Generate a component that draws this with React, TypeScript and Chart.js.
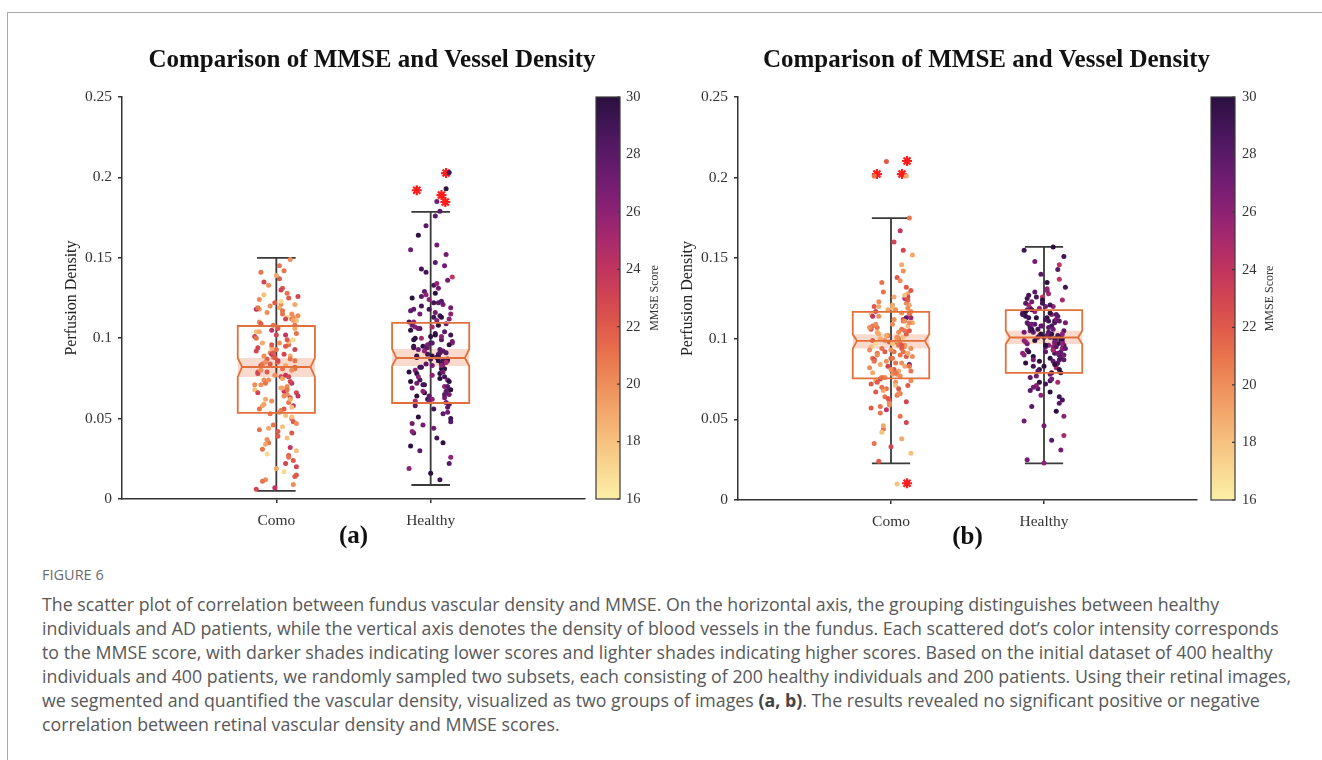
import React, { useEffect, useRef } from 'react';
import { Chart, registerables } from 'chart.js';

Chart.register(...registerables);

// ---------------- data ----------------
const TITLE = 'Comparison of MMSE and Vessel Density';
const CATEGORIES = ['Como', 'Healthy'];
const Y_TICKS = [0, 0.05, 0.1, 0.15, 0.2, 0.25];
const CB_TICKS = [16, 18, 20, 22, 24, 26, 28, 30];
const Y_TITLE = 'Perfusion Density';
const CB_TITLE = 'MMSE Score';

// horizontal jitter of each scattered dot (category units)
const JITTER = [
  0.05, -0.11, 0.12, -0.03, 0.08, -0.13, 0.01, 0.10, -0.07, 0.04,
  -0.09, 0.13, -0.02, 0.07, -0.12, 0.03, 0.11, -0.05, 0.09, -0.14,
  0.02, -0.08, 0.06, 0.12, -0.10, 0.00, 0.08, -0.04, 0.14, -0.11,
  0.10, -0.06, 0.03, -0.13, 0.07, 0.11, -0.01, 0.05, -0.09, 0.13,
  -0.12, 0.04, 0.09, -0.07, 0.01, -0.03, 0.12, -0.10, 0.06, 0.02,
  0.08, -0.14, 0.11, -0.05, 0.03, 0.10, -0.08, 0.13, -0.02, 0.06,
  -0.11, 0.09, -0.04, 0.01, 0.12, -0.06, 0.04, -0.13, 0.07, 0.10,
  0.00, -0.09, 0.05, 0.11, -0.01, 0.08, -0.12, 0.03, -0.07, 0.14,
  0.06, -0.10, 0.02, 0.09, -0.05, 0.13, -0.03, 0.07, 0.11, -0.08,
  -0.13, 0.04, 0.10, -0.06, 0.01, -0.11, 0.08, 0.05, -0.02, 0.12,
  0.03, -0.07, 0.13, -0.10, 0.06, 0.09, -0.04, 0.00, -0.12, 0.07,
  0.11, -0.01, 0.04, -0.09, 0.14, 0.02, -0.06, 0.10, 0.08, -0.13,
  -0.03, 0.12, -0.08, 0.05, 0.01, -0.11, 0.09, -0.05, 0.13, 0.03,
  0.07, -0.14, 0.10, -0.02, 0.06, 0.04, -0.09, 0.12, -0.07, 0.00,
  -0.10, 0.08, 0.02, 0.11, -0.04, 0.13, -0.12, 0.05, 0.09, -0.06,
  0.01, -0.08, 0.07, -0.01, 0.12, -0.03, 0.10, -0.11, 0.04, 0.06,
];

// ---- panel (a) ----
const A_COMO_Y = [
  0.142, 0.118, 0.093, 0.061, 0.027, 0.104, 0.085, 0.072, 0.012, 0.131,
  0.097, 0.066, 0.046, 0.113, 0.079, 0.121, 0.058, 0.035, 0.089, 0.101,
  0.137, 0.074, 0.052, 0.108, 0.083, 0.019, 0.125, 0.091, 0.064, 0.043,
  0.115, 0.087, 0.069, 0.006, 0.128, 0.099, 0.077, 0.056, 0.031, 0.111,
  0.094, 0.081, 0.149, 0.062, 0.039, 0.105, 0.086, 0.071, 0.022, 0.119,
  0.096, 0.068, 0.048, 0.133, 0.076, 0.112, 0.059, 0.015, 0.088, 0.102,
  0.124, 0.073, 0.053, 0.107, 0.082, 0.028, 0.117, 0.092, 0.065, 0.041,
  0.139, 0.084, 0.067, 0.009, 0.122, 0.098, 0.078, 0.055, 0.034, 0.114,
  0.095, 0.080, 0.145, 0.063, 0.044, 0.103, 0.090, 0.070, 0.024, 0.127,
  0.100, 0.075, 0.050, 0.116, 0.086, 0.110, 0.060, 0.017, 0.091, 0.106,
  0.130, 0.072, 0.047, 0.109, 0.083, 0.032, 0.120, 0.093, 0.066, 0.038,
  0.113, 0.088, 0.069, 0.011, 0.126, 0.097, 0.079, 0.057, 0.026, 0.118,
  0.094, 0.081, 0.135, 0.064, 0.042, 0.104, 0.087, 0.074, 0.020, 0.123,
  0.099, 0.071, 0.051, 0.108, 0.077, 0.115, 0.058, 0.014, 0.085, 0.102,
  0.141, 0.076, 0.054, 0.111, 0.084, 0.030, 0.119, 0.090, 0.062, 0.037,
  0.106, 0.089, 0.068, 0.007, 0.121, 0.096, 0.080, 0.056, 0.045, 0.112,
];
const A_COMO_MMSE = [
  21, 19, 23, 20, 22, 18, 21, 24, 20, 22,
  19, 23, 21, 17, 22, 20, 24, 21, 19, 23,
  22, 20, 18, 21, 23, 19, 22, 20, 24, 21,
  20, 22, 19, 23, 21, 17, 20, 22, 21, 18,
  23, 21, 20, 19, 22, 24, 21, 20, 23, 19,
  21, 18, 22, 20, 23, 21, 19, 22, 20, 24,
  20, 23, 21, 19, 22, 17, 21, 23, 20, 22,
  19, 21, 24, 20, 22, 18, 23, 21, 19, 20,
  22, 20, 21, 23, 19, 21, 24, 20, 22, 18,
  21, 19, 22, 20, 23, 20, 21, 17, 22, 19,
  23, 21, 20, 22, 19, 24, 20, 21, 23, 18,
  20, 22, 19, 21, 23, 20, 22, 18, 21, 24,
  19, 21, 23, 20, 22, 19, 21, 20, 23, 17,
  22, 20, 18, 21, 24, 21, 19, 22, 20, 23,
  21, 23, 20, 19, 22, 18, 21, 23, 19, 20,
  22, 20, 21, 24, 19, 22, 20, 21, 18, 23,
];
const A_HEALTHY_Y = [
  0.122, 0.095, 0.068, 0.141, 0.084, 0.033, 0.107, 0.091, 0.074, 0.158,
  0.089, 0.115, 0.062, 0.099, 0.047, 0.128, 0.086, 0.071, 0.104, 0.019,
  0.133, 0.093, 0.078, 0.112, 0.058, 0.087, 0.121, 0.066, 0.097, 0.041,
  0.109, 0.082, 0.147, 0.073, 0.101, 0.054, 0.118, 0.090, 0.064, 0.026,
  0.125, 0.088, 0.070, 0.106, 0.083, 0.170, 0.096, 0.061, 0.114, 0.044,
  0.092, 0.079, 0.136, 0.067, 0.103, 0.085, 0.051, 0.119, 0.094, 0.012,
  0.110, 0.076, 0.129, 0.089, 0.065, 0.100, 0.038, 0.117, 0.081, 0.152,
  0.097, 0.072, 0.108, 0.057, 0.124, 0.086, 0.069, 0.102, 0.030, 0.138,
  0.091, 0.080, 0.113, 0.063, 0.095, 0.048, 0.127, 0.084, 0.074, 0.164,
  0.105, 0.088, 0.060, 0.120, 0.077, 0.099, 0.053, 0.131, 0.090, 0.022,
  0.116, 0.082, 0.068, 0.107, 0.093, 0.145, 0.071, 0.101, 0.042, 0.123,
  0.087, 0.064, 0.111, 0.078, 0.098, 0.056, 0.126, 0.085, 0.035, 0.155,
  0.094, 0.073, 0.106, 0.089, 0.062, 0.118, 0.081, 0.046, 0.102, 0.176,
  0.083, 0.110, 0.067, 0.096, 0.075, 0.134, 0.088, 0.059, 0.115, 0.016,
  0.100, 0.079, 0.122, 0.070, 0.092, 0.050, 0.108, 0.086, 0.065, 0.143,
  0.097, 0.076, 0.113, 0.061, 0.203, 0.084, 0.193, 0.094, 0.185, 0.179,
];
const A_HEALTHY_MMSE = [
  28, 30, 26, 29, 27, 30, 25, 28, 29, 27,
  30, 26, 29, 28, 27, 30, 24, 29, 28, 26,
  29, 27, 30, 26, 28, 29, 27, 30, 25, 28,
  27, 29, 28, 30, 26, 27, 29, 28, 30, 26,
  30, 28, 26, 29, 27, 28, 30, 25, 29, 27,
  28, 30, 27, 26, 29, 28, 30, 27, 26, 29,
  26, 29, 28, 30, 27, 25, 29, 28, 30, 27,
  29, 27, 30, 28, 26, 29, 27, 30, 28, 24,
  28, 26, 29, 27, 30, 28, 26, 29, 27, 30,
  30, 28, 27, 29, 26, 30, 28, 27, 29, 28,
  27, 29, 30, 26, 28, 27, 29, 30, 26, 28,
  29, 28, 26, 30, 27, 29, 28, 25, 30, 27,
  28, 30, 27, 29, 26, 28, 30, 27, 29, 28,
  26, 29, 28, 27, 30, 26, 29, 28, 27, 30,
  30, 27, 29, 28, 26, 29, 27, 30, 28, 29,
  28, 26, 30, 27, 29, 28, 30, 29, 27, 28,
];
// box statistics: [whiskerLow, q1, notchLow, median, notchHigh, q3, whiskerHigh]
const A_COMO_BOX = [0.005, 0.0535, 0.0759, 0.0821, 0.0877, 0.1076, 0.15];
const A_HEALTHY_BOX = [0.0087, 0.0597, 0.0827, 0.0877, 0.0933, 0.1095, 0.1785];
const A_OUTLIER_Y = [0.2027, 0.192, 0.189, 0.1847];
const A_OUTLIER_GROUP = [2, 2, 2, 2];
const A_OUTLIER_JITTER = [0.1, -0.09, 0.07, 0.095];

// ---- panel (b) ----
const B_COMO_Y = [
  0.104, 0.087, 0.121, 0.069, 0.112, 0.095, 0.078, 0.132, 0.058, 0.101,
  0.091, 0.117, 0.083, 0.146, 0.099, 0.073, 0.108, 0.044, 0.125, 0.093,
  0.081, 0.103, 0.066, 0.115, 0.097, 0.088, 0.155, 0.076, 0.110, 0.035,
  0.122, 0.094, 0.071, 0.106, 0.085, 0.128, 0.062, 0.100, 0.090, 0.113,
  0.079, 0.138, 0.096, 0.054, 0.119, 0.086, 0.105, 0.074, 0.167, 0.092,
  0.111, 0.082, 0.126, 0.068, 0.098, 0.089, 0.114, 0.029, 0.102, 0.077,
  0.120, 0.095, 0.064, 0.109, 0.084, 0.135, 0.099, 0.072, 0.116, 0.048,
  0.093, 0.107, 0.080, 0.124, 0.060, 0.101, 0.088, 0.118, 0.075, 0.152,
  0.097, 0.067, 0.112, 0.083, 0.129, 0.094, 0.056, 0.106, 0.091, 0.024,
  0.115, 0.078, 0.103, 0.070, 0.121, 0.087, 0.142, 0.096, 0.063, 0.110,
  0.085, 0.100, 0.074, 0.117, 0.052, 0.127, 0.092, 0.081, 0.108, 0.038,
  0.119, 0.098, 0.065, 0.104, 0.089, 0.160, 0.076, 0.113, 0.095, 0.057,
  0.102, 0.083, 0.123, 0.069, 0.097, 0.086, 0.111, 0.046, 0.130, 0.079,
  0.094, 0.107, 0.061, 0.118, 0.090, 0.101, 0.073, 0.175, 0.084, 0.033,
  0.109, 0.092, 0.126, 0.071, 0.099, 0.080, 0.114, 0.066, 0.105, 0.042,
  0.088, 0.120, 0.096, 0.059, 0.116, 0.210, 0.201, 0.201, 0.010, 0.136,
];
const B_COMO_MMSE = [
  20, 22, 19, 21, 23, 18, 20, 22, 21, 19,
  21, 20, 23, 19, 22, 20, 18, 21, 24, 20,
  22, 19, 21, 20, 17, 22, 23, 20, 19, 21,
  20, 21, 18, 22, 20, 19, 23, 21, 20, 25,
  19, 22, 20, 21, 18, 20, 22, 19, 24, 21,
  21, 20, 23, 19, 21, 22, 20, 18, 21, 20,
  22, 19, 21, 20, 27, 21, 19, 22, 20, 23,
  20, 21, 19, 22, 20, 18, 21, 20, 23, 19,
  21, 22, 20, 19, 21, 20, 24, 21, 19, 22,
  18, 20, 22, 21, 19, 23, 20, 21, 22, 20,
  21, 19, 20, 23, 21, 18, 22, 20, 21, 19,
  20, 22, 21, 19, 20, 23, 21, 28, 20, 22,
  19, 21, 20, 22, 18, 21, 20, 19, 22, 21,
  22, 20, 23, 19, 21, 20, 22, 21, 19, 23,
  20, 21, 19, 22, 20, 21, 24, 20, 21, 18,
  21, 19, 22, 20, 21, 22, 19, 21, 18, 20,
];
const B_HEALTHY_Y = [
  0.108, 0.093, 0.124, 0.081, 0.115, 0.099, 0.072, 0.137, 0.104, 0.088,
  0.119, 0.096, 0.065, 0.110, 0.085, 0.128, 0.101, 0.077, 0.143, 0.091,
  0.113, 0.058, 0.106, 0.094, 0.121, 0.083, 0.100, 0.069, 0.132, 0.097,
  0.087, 0.117, 0.103, 0.049, 0.111, 0.092, 0.126, 0.079, 0.105, 0.151,
  0.098, 0.074, 0.114, 0.089, 0.120, 0.102, 0.062, 0.109, 0.095, 0.135,
  0.084, 0.116, 0.099, 0.071, 0.107, 0.090, 0.123, 0.040, 0.103, 0.086,
  0.118, 0.097, 0.080, 0.112, 0.094, 0.129, 0.067, 0.104, 0.091, 0.146,
  0.101, 0.076, 0.115, 0.088, 0.108, 0.055, 0.122, 0.096, 0.083, 0.110,
  0.093, 0.127, 0.102, 0.073, 0.113, 0.087, 0.119, 0.100, 0.031, 0.106,
  0.090, 0.116, 0.064, 0.109, 0.095, 0.125, 0.082, 0.103, 0.140, 0.098,
  0.111, 0.070, 0.105, 0.092, 0.120, 0.085, 0.101, 0.046, 0.114, 0.097,
  0.089, 0.124, 0.078, 0.107, 0.094, 0.131, 0.099, 0.060, 0.112, 0.155,
  0.086, 0.103, 0.118, 0.075, 0.096, 0.110, 0.091, 0.126, 0.052, 0.104,
  0.098, 0.115, 0.081, 0.108, 0.093, 0.121, 0.068, 0.100, 0.087, 0.023,
  0.113, 0.095, 0.130, 0.079, 0.106, 0.090, 0.117, 0.037, 0.102, 0.148,
  0.092, 0.109, 0.084, 0.122, 0.097, 0.073, 0.111, 0.025, 0.101, 0.157,
];
const B_HEALTHY_MMSE = [
  29, 27, 25, 30, 28, 26, 29, 24, 28, 30,
  27, 29, 26, 28, 30, 25, 29, 27, 28, 26,
  30, 28, 27, 29, 25, 30, 26, 28, 29, 27,
  28, 26, 30, 27, 29, 28, 24, 30, 27, 29,
  26, 29, 28, 30, 27, 25, 29, 28, 26, 30,
  29, 27, 30, 26, 28, 29, 27, 25, 30, 28,
  27, 30, 28, 29, 26, 28, 30, 27, 29, 24,
  30, 28, 26, 29, 27, 30, 28, 26, 29, 27,
  28, 29, 27, 25, 30, 28, 26, 29, 27, 30,
  26, 30, 29, 28, 27, 29, 25, 30, 28, 27,
  29, 27, 28, 30, 26, 28, 29, 27, 30, 25,
  28, 30, 27, 29, 28, 26, 30, 28, 27, 29,
  30, 26, 29, 27, 30, 28, 27, 29, 26, 28,
  27, 29, 30, 28, 25, 29, 28, 30, 27, 26,
  29, 28, 26, 30, 29, 27, 30, 28, 29, 27,
  28, 27, 30, 29, 26, 30, 28, 27, 29, 30,
];
const B_COMO_BOX = [0.0227, 0.0754, 0.094, 0.0987, 0.1028, 0.1167, 0.1749];
const B_HEALTHY_BOX = [0.0227, 0.0789, 0.0967, 0.1008, 0.105, 0.1178, 0.157];
const B_OUTLIER_Y = [0.2103, 0.2022, 0.2022, 0.0104];
const B_OUTLIER_GROUP = [1, 1, 1, 1];
const B_OUTLIER_JITTER = [0.105, -0.092, 0.072, 0.105];

const CAPTION_HEAD = 'FIGURE 6';
const CAPTION_LINES = [
  'The scatter plot of correlation between fundus vascular density and MMSE. On the horizontal axis, the grouping distinguishes between healthy',
  'individuals and AD patients, while the vertical axis denotes the density of blood vessels in the fundus. Each scattered dot\u2019s color intensity corresponds',
  'to the MMSE score, with darker shades indicating lower scores and lighter shades indicating higher scores. Based on the initial dataset of 400 healthy',
  'individuals and 400 patients, we randomly sampled two subsets, each consisting of 200 healthy individuals and 200 patients. Using their retinal images,',
  'we segmented and quantified the vascular density, visualized as two groups of images [(a, b)]. The results revealed no significant positive or negative',
  'correlation between retinal vascular density and MMSE scores.',
];

// ---------------- styles ----------------
const SERIF = '"Liberation Serif", "Times New Roman", serif';
const MMSE_COLORS = [
  '#fcefa7', '#f9d993', '#f6c17f', '#f3a86c', '#ee8e5b', '#e8744d', '#df5a4b', '#d24552',
  '#c1355e', '#a92a6c', '#8e2274', '#731d72', '#5a1a68', '#421556', '#2b1040',
];
const mmseColor = (v: number) => MMSE_COLORS[Math.max(0, Math.min(MMSE_COLORS.length - 1, Math.round(v) - 16))];
const BOX_COLOR = '#e2703a';
const BAND_COLOR = 'rgba(238, 150, 110, 0.35)';
const WHISKER_COLOR = '#3a3a3a';
const AXIS_COLOR = '#333333';
const BOX_HALF = 0.25;
const NOTCH_DEPTH = 0.028;
const CAP_HALF = 0.125;

type PanelProps = {
  left: number;
  width: number;
  padLeft: number;
  padRight: number;
  padBottom: number;
  cbWidth: number;
  cbGap: number;
  cbLabelPad: number;
  cbTitleOffset: number;
  titleX: number;
  panelLabel: string;
  groupsY: number[][];
  groupsMmse: number[][];
  boxes: number[][];
  outY: number[];
  outGroup: number[];
  outJitter: number[];
};

const TOP = 30;
const HEIGHT = 530;

function Panel(p: PanelProps) {
  const ref = useRef<HTMLCanvasElement | null>(null);
  useEffect(() => {
    const canvas = ref.current;
    if (!canvas) return;
    const datasets: any[] = p.groupsY.map((ys, g) => ({
      type: 'scatter',
      xAxisID: 'x',
      yAxisID: 'y',
      data: ys.map((y, i) => ({ x: g + 1 + JITTER[i % JITTER.length], y })),
      backgroundColor: p.groupsMmse[g].map(mmseColor),
      borderWidth: 0,
      pointRadius: 2.5,
      pointHoverRadius: 2.5,
    }));
    datasets.push({
      type: 'scatter',
      xAxisID: 'x',
      yAxisID: 'y',
      data: p.outY.map((y, i) => ({ x: p.outGroup[i] + p.outJitter[i], y })),
      pointStyle: 'star',
      pointRadius: 5,
      pointHoverRadius: 5,
      borderColor: '#ff1c1c',
      backgroundColor: '#ff1c1c',
      borderWidth: 2.2,
    });

    const decor = {
      id: 'decor',
      beforeDatasetsDraw(chart: any) {
        const ctx = chart.ctx;
        const xs = chart.scales.x;
        const ys = chart.scales.y;
        ctx.save();
        p.boxes.forEach((b, g) => {
          const cx = g + 1;
          const xl = xs.getPixelForValue(cx - BOX_HALF);
          const xr = xs.getPixelForValue(cx + BOX_HALF);
          ctx.fillStyle = BAND_COLOR;
          const yl = ys.getPixelForValue(b[2]);
          const yh = ys.getPixelForValue(b[4]);
          ctx.fillRect(xl, yh, xr - xl, yl - yh);
          ctx.strokeStyle = WHISKER_COLOR;
          ctx.lineWidth = 1.8;
          const px = xs.getPixelForValue(cx);
          ctx.beginPath();
          ctx.moveTo(px, ys.getPixelForValue(b[0]));
          ctx.lineTo(px, ys.getPixelForValue(b[6]));
          [b[0], b[6]].forEach((v) => {
            const py = ys.getPixelForValue(v);
            ctx.moveTo(xs.getPixelForValue(cx - CAP_HALF), py);
            ctx.lineTo(xs.getPixelForValue(cx + CAP_HALF), py);
          });
          ctx.stroke();
        });
        ctx.restore();
      },
      afterDatasetsDraw(chart: any) {
        const ctx = chart.ctx;
        const xs = chart.scales.x;
        const ys = chart.scales.y;
        ctx.save();
        ctx.strokeStyle = BOX_COLOR;
        ctx.lineWidth = 1.8;
        ctx.lineJoin = 'miter';
        p.boxes.forEach((b, g) => {
          const cx = g + 1;
          const xl = xs.getPixelForValue(cx - BOX_HALF);
          const xr = xs.getPixelForValue(cx + BOX_HALF);
          const xli = xs.getPixelForValue(cx - BOX_HALF + NOTCH_DEPTH);
          const xri = xs.getPixelForValue(cx + BOX_HALF - NOTCH_DEPTH);
          const yq1 = ys.getPixelForValue(b[1]);
          const ynl = ys.getPixelForValue(b[2]);
          const ym = ys.getPixelForValue(b[3]);
          const ynh = ys.getPixelForValue(b[4]);
          const yq3 = ys.getPixelForValue(b[5]);
          ctx.beginPath();
          ctx.moveTo(xl, yq3);
          ctx.lineTo(xr, yq3);
          ctx.lineTo(xr, ynh);
          ctx.lineTo(xri, ym);
          ctx.lineTo(xr, ynl);
          ctx.lineTo(xr, yq1);
          ctx.lineTo(xl, yq1);
          ctx.lineTo(xl, ynl);
          ctx.lineTo(xli, ym);
          ctx.lineTo(xl, ynh);
          ctx.closePath();
          ctx.moveTo(xli, ym);
          ctx.lineTo(xri, ym);
          ctx.stroke();
        });
        ctx.restore();
      },
      afterDraw(chart: any) {
        const ctx = chart.ctx;
        const ca = chart.chartArea;
        const cb = chart.scales.cb;
        ctx.save();
        const x0 = ca.right + p.cbGap;
        const w = 24;
        const grad = ctx.createLinearGradient(0, cb.bottom, 0, cb.top);
        MMSE_COLORS.forEach((c, i) => grad.addColorStop(i / (MMSE_COLORS.length - 1), c));
        ctx.fillStyle = grad;
        ctx.fillRect(x0, cb.top, w, cb.bottom - cb.top);
        ctx.strokeStyle = '#3a3a3a';
        ctx.lineWidth = 1.2;
        ctx.strokeRect(x0, cb.top, w, cb.bottom - cb.top);
        ctx.beginPath();
        CB_TICKS.forEach((t) => {
          const y = cb.getPixelForValue(t);
          ctx.moveTo(x0 + w, y);
          ctx.lineTo(x0 + w - 3, y);
        });
        ctx.stroke();
        ctx.translate(ca.right + p.cbTitleOffset, (cb.top + cb.bottom) / 2);
        ctx.rotate(-Math.PI / 2);
        ctx.font = '12px ' + SERIF;
        ctx.fillStyle = '#333';
        ctx.textAlign = 'center';
        ctx.textBaseline = 'middle';
        ctx.fillText(CB_TITLE, 0, 0);
        ctx.restore();
        ctx.save();
        ctx.font = 'bold 25px ' + SERIF;
        ctx.fillStyle = '#111';
        ctx.textAlign = 'center';
        ctx.textBaseline = 'middle';
        ctx.fillText(TITLE, p.titleX, 31);
        ctx.restore();
      },
    };

    const tickFont = { family: SERIF, size: 15.5 };
    const chart = new Chart(canvas, {
      type: 'scatter',
      data: { datasets },
      options: {
        responsive: false,
        animation: false,
        devicePixelRatio: 1,
        events: [],
        layout: { padding: { left: p.padLeft, right: p.padRight, top: 67, bottom: p.padBottom } },
        plugins: { legend: { display: false }, tooltip: { enabled: false }, title: { display: false } },
        scales: {
          x: {
            type: 'linear',
            position: 'bottom',
            min: 0,
            max: 3,
            afterBuildTicks: (s: any) => {
              s.ticks = CATEGORIES.map((_, i) => ({ value: i + 1 }));
            },
            afterFit: (s: any) => {
              s.height = 53;
            },
            ticks: {
              callback: (v: any) => CATEGORIES[Math.round(Number(v)) - 1] ?? '',
              font: tickFont,
              color: '#333',
              padding: 9,
              maxRotation: 0,
              autoSkip: false,
            },
            grid: { drawOnChartArea: false, drawTicks: true, tickLength: 4, color: AXIS_COLOR, lineWidth: 1.5 },
            border: { display: true, color: AXIS_COLOR, width: 1.5 },
            title: {
              display: true,
              text: p.panelLabel,
              font: { family: SERIF, size: 25, weight: 'bold' },
              color: '#111',
              padding: { top: 0, bottom: 0 },
            },
          },
          y: {
            type: 'linear',
            position: 'left',
            min: 0,
            max: 0.25,
            afterBuildTicks: (s: any) => {
              s.ticks = Y_TICKS.map((v) => ({ value: v }));
            },
            afterFit: (s: any) => {
              s.width = 60;
            },
            ticks: {
              callback: (v: any) => String(Number(Number(v).toFixed(2))),
              font: tickFont,
              color: '#333',
              padding: 6,
              autoSkip: false,
            },
            grid: { drawOnChartArea: false, drawTicks: true, tickLength: 4, color: AXIS_COLOR, lineWidth: 1.5 },
            border: { display: true, color: AXIS_COLOR, width: 1.5 },
            title: {
              display: true,
              text: Y_TITLE,
              font: { family: SERIF, size: 16 },
              color: '#222',
              padding: { top: 0, bottom: 0 },
            },
          },
          cb: {
            type: 'linear',
            axis: 'y',
            position: 'right',
            min: 16,
            max: 30,
            afterBuildTicks: (s: any) => {
              s.ticks = CB_TICKS.map((v) => ({ value: v }));
            },
            afterFit: (s: any) => {
              s.width = p.cbWidth;
            },
            ticks: { font: { family: SERIF, size: 14.5 }, color: '#333', padding: p.cbLabelPad, autoSkip: false },
            grid: { display: false, drawTicks: false, drawOnChartArea: false },
            border: { display: false },
          },
        },
      } as any,
      plugins: [decor],
    });
    return () => chart.destroy();
  }, []);
  return (
    <canvas
      ref={ref}
      width={p.width}
      height={HEIGHT}
      style={{ position: 'absolute', left: p.left, top: TOP, width: p.width, height: HEIGHT }}
    />
  );
}

function CaptionLine({ text }: { text: string }) {
  const m = text.match(/^(.*)\[(.*)\](.*)$/);
  if (!m) return <>{text}</>;
  return (
    <>
      {m[1]}
      <b style={{ fontWeight: 700, color: '#444' }}>{m[2]}</b>
      {m[3]}
    </>
  );
}

export default function App() {
  return (
    <div
      style={{
        position: 'absolute',
        left: 0,
        top: 0,
        width: 1322,
        height: 760,
        overflow: 'hidden',
        background: '#ffffff',
      }}
    >
      <div
        style={{
          position: 'absolute',
          left: 7,
          top: 12,
          width: 1400,
          height: 900,
          borderTop: '1.5px solid #a9a9a9',
          borderLeft: '1.5px solid #a9a9a9',
        }}
      />
      <Panel
        left={20}
        width={660}
        padLeft={42}
        padRight={10}
        padBottom={8}
        cbWidth={85}
        cbGap={11}
        cbLabelPad={41}
        cbTitleOffset={70}
        titleX={352}
        panelLabel="(a)"
        groupsY={[A_COMO_Y, A_HEALTHY_Y]}
        groupsMmse={[A_COMO_MMSE, A_HEALTHY_MMSE]}
        boxes={[A_COMO_BOX, A_HEALTHY_BOX]}
        outY={A_OUTLIER_Y}
        outGroup={A_OUTLIER_GROUP}
        outJitter={A_OUTLIER_JITTER}
      />
      <Panel
        left={640}
        width={680}
        padLeft={38}
        padRight={23}
        padBottom={7}
        cbWidth={100}
        cbGap={14}
        cbLabelPad={45}
        cbTitleOffset={73}
        titleX={346.5}
        panelLabel="(b)"
        groupsY={[B_COMO_Y, B_HEALTHY_Y]}
        groupsMmse={[B_COMO_MMSE, B_HEALTHY_MMSE]}
        boxes={[B_COMO_BOX, B_HEALTHY_BOX]}
        outY={B_OUTLIER_Y}
        outGroup={B_OUTLIER_GROUP}
        outJitter={B_OUTLIER_JITTER}
      />
      <div
        style={{
          position: 'absolute',
          left: 42,
          top: 566,
          fontFamily: '"Open Sans", sans-serif',
          fontSize: 14.5,
          lineHeight: '18px',
          color: '#6b6b6b',
          whiteSpace: 'nowrap',
        }}
      >
        {CAPTION_HEAD}
      </div>
      {CAPTION_LINES.map((line, i) => (
        <div
          key={i}
          style={{
            position: 'absolute',
            left: 42,
            top: 592 + 24 * i,
            fontFamily: '"Open Sans", sans-serif',
            fontSize: 17.8,
            lineHeight: '24px',
            color: '#585858',
            whiteSpace: 'nowrap',
          }}
        >
          <CaptionLine text={line} />
        </div>
      ))}
    </div>
  );
}
